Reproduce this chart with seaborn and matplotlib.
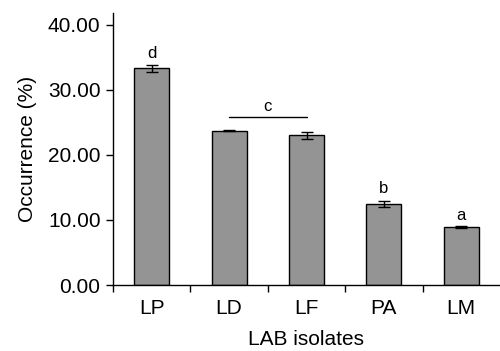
import matplotlib
matplotlib.use("Agg")
import matplotlib.pyplot as plt
import seaborn as sns
import numpy as np
import pandas as pd

# data
isolates = ["LP", "LD", "LF", "PA", "LM"]
occurrence = [33.3, 23.7, 23.0, 12.5, 8.9]
err = [0.5, 0.1, 0.5, 0.45, 0.1]
letters = ["d", "", "", "b", "a"]
letter_y = [35.6, 0, 0, 14.8, 10.7]

sns.set_style("ticks")
plt.rcParams['font.family'] = ['Liberation Sans', 'DejaVu Sans']
plt.rcParams['text.color'] = 'black'
plt.rcParams['axes.labelcolor'] = 'black'
plt.rcParams['xtick.color'] = 'black'
plt.rcParams['ytick.color'] = 'black'
plt.rcParams['axes.edgecolor'] = 'black'

df = pd.DataFrame({"isolate": isolates, "occ": occurrence})

fig = plt.figure(figsize=(5, 3.51), dpi=100)
ax = fig.add_axes([0.226, 0.188, 0.774, 0.775])

sns.barplot(data=df, x="isolate", y="occ", color="#949494", saturation=1,
            width=0.45, edgecolor="black", linewidth=1.0, ax=ax, errorbar=None)
ax.errorbar(np.arange(len(isolates)), occurrence, yerr=err, fmt="none",
            ecolor="black", elinewidth=1.0, capsize=4, capthick=1.0)

for i, (t, yy) in enumerate(zip(letters, letter_y)):
    if t:
        ax.text(i, yy, t, ha="center", va="center", fontsize=12)

# group bracket for LD / LF
ax.plot([1, 2], [25.8, 25.8], color="black", lw=1.0)
ax.text(1.5, 27.4, "c", ha="center", va="center", fontsize=12)

ax.set_xlim(-0.5, 4.5)
ax.set_ylim(0, 41.8)
ax.set_yticks([0, 10, 20, 30, 40])
ax.set_yticklabels(["%.2f" % v for v in [0, 10, 20, 30, 40]], fontsize=15)
ax.set_xticks(np.arange(5))
ax.set_xticklabels(isolates, fontsize=15)
ax.tick_params(axis="x", which="major", length=0, pad=10)
ax.set_xticks(np.arange(-0.5, 4.5, 1), minor=True)
ax.tick_params(axis="x", which="minor", length=5, width=1, direction="out")
ax.tick_params(axis="y", length=5, width=1, direction="out", pad=4)
ax.spines["top"].set_visible(False)
ax.spines["right"].set_visible(False)
ax.spines["left"].set_linewidth(1)
ax.spines["bottom"].set_linewidth(1)
ax.set_xlabel("LAB isolates", fontsize=15, labelpad=9)
ax.set_ylabel("Occurrence (%)", fontsize=15, labelpad=8)

fig.savefig("out.png", dpi=100)
